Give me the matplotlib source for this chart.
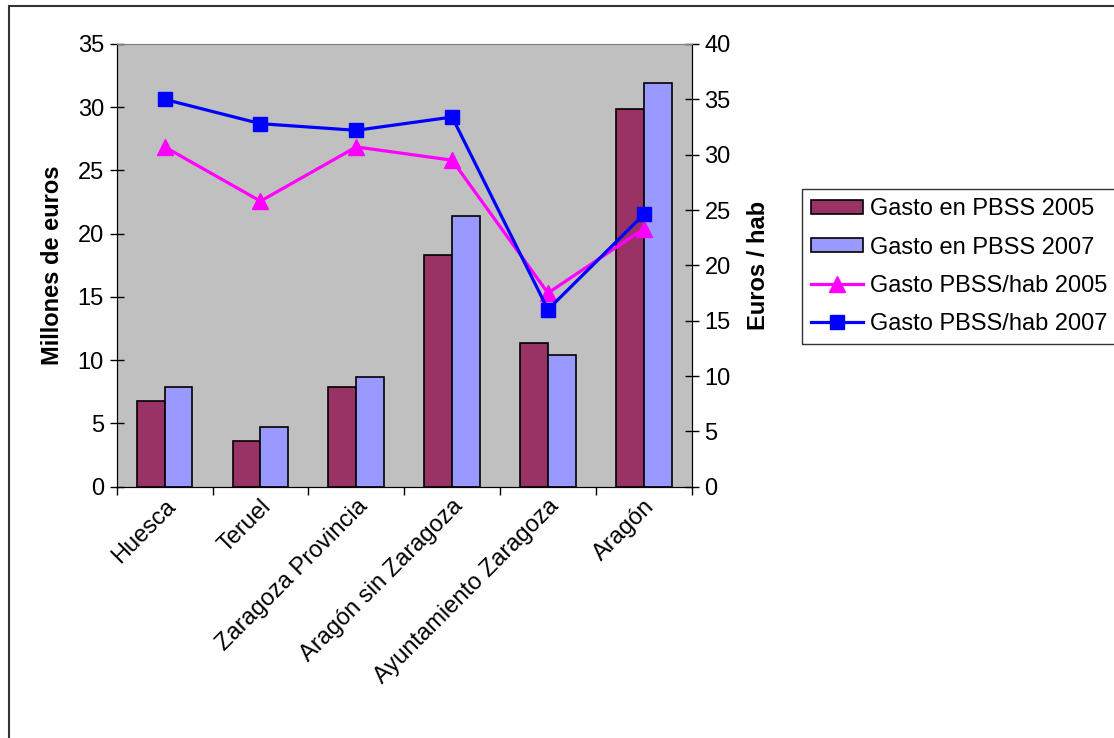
import matplotlib
matplotlib.use("Agg")
import matplotlib.pyplot as plt
import numpy as np
from matplotlib.patches import Rectangle
from matplotlib.lines import Line2D

plt.rcParams['font.family'] = ['Liberation Sans', 'DejaVu Sans']

categories = ["Huesca", "Teruel", "Zaragoza Provincia", "Aragón sin Zaragoza",
              "Ayuntamiento Zaragoza", "Aragón"]
gasto_2005 = [6.8, 3.6, 7.9, 18.3, 11.4, 29.9]
gasto_2007 = [7.9, 4.7, 8.65, 21.4, 10.4, 31.9]
hab_2005 = [30.7, 25.8, 30.7, 29.5, 17.5, 23.3]
hab_2007 = [35.0, 32.8, 32.2, 33.4, 16.0, 24.6]

W, H = 1114, 738
FS = 17
fig = plt.figure(figsize=(W / 100, H / 100), dpi=100)

# outer chart border
fig.patches.append(Rectangle((9 / W, -0.05), 1.2, 1.05 - 6 / H, transform=fig.transFigure,
                             fill=False, edgecolor='#333333', linewidth=1.5))

ax = fig.add_axes([116.7 / W, 1 - 486.7 / H, 575 / W, 442.7 / H])
ax.set_facecolor('#C0C0C0')
x = np.arange(len(categories))
bw = 0.29
ax.bar(x - bw / 2, gasto_2005, bw, color='#993366', edgecolor='black', linewidth=1.2, zorder=2)
ax.bar(x + bw / 2, gasto_2007, bw, color='#9999FF', edgecolor='black', linewidth=1.2, zorder=2)
ax.set_xlim(-0.5, len(categories) - 0.5)
ax.set_ylim(0, 35)
ax.set_yticks(np.arange(0, 36, 5))
ax.set_xticks(x)
ax.set_xticklabels(categories, rotation=45, ha='right', rotation_mode='anchor', fontsize=FS)
ax.set_xticks(np.arange(-0.5, len(categories)), minor=True)
ax.tick_params(axis='x', which='major', length=0, pad=6)
ax.tick_params(axis='x', which='minor', length=6, direction='out', width=1)
ax.tick_params(axis='y', direction='inout', length=10.5, width=1, labelsize=FS, pad=4)
ax.set_ylabel("Millones de euros", fontsize=FS, fontweight='bold', labelpad=10)
for s in ['left', 'bottom', 'right']:
    ax.spines[s].set_color('black')
ax.spines['top'].set_color('#808080')

ax2 = ax.twinx()
ax2.plot(x, hab_2005, color='#FF00FF', linewidth=2.3, marker='^', markersize=11, zorder=3)
ax2.plot(x, hab_2007, color='#0000FF', linewidth=2.3, marker='s', markersize=10, zorder=3)
ax2.set_ylim(0, 40)
ax2.set_yticks(np.arange(0, 41, 5))
ax2.tick_params(axis='y', direction='inout', length=10.5, width=1, labelsize=FS, pad=4)
ax2.set_ylabel("Euros / hab", fontsize=FS, fontweight='bold', labelpad=12)
ax2.spines['right'].set_color('black')
ax2.spines['top'].set_color('#808080')

handles = [
    Rectangle((0, 0), 1, 1, facecolor='#993366', edgecolor='black', linewidth=1.2),
    Rectangle((0, 0), 1, 1, facecolor='#9999FF', edgecolor='black', linewidth=1.2),
    Line2D([], [], color='#FF00FF', linewidth=2.3, marker='^', markersize=11),
    Line2D([], [], color='#0000FF', linewidth=2.3, marker='s', markersize=10),
]
labels = ["Gasto en PBSS 2005", "Gasto en PBSS 2007", "Gasto PBSS/hab 2005", "Gasto PBSS/hab 2007"]
leg = fig.legend(handles, labels, loc='upper left', bbox_to_anchor=(801.7 / W, 1 - 189 / H),
                 fontsize=FS, frameon=True, fancybox=False, edgecolor='black',
                 borderpad=0.4, labelspacing=0.68, handlelength=2.2, handleheight=0.55,
                 handletextpad=0.3, borderaxespad=0)
leg.get_frame().set_linewidth(1)

fig.savefig("out.png", dpi=100)
